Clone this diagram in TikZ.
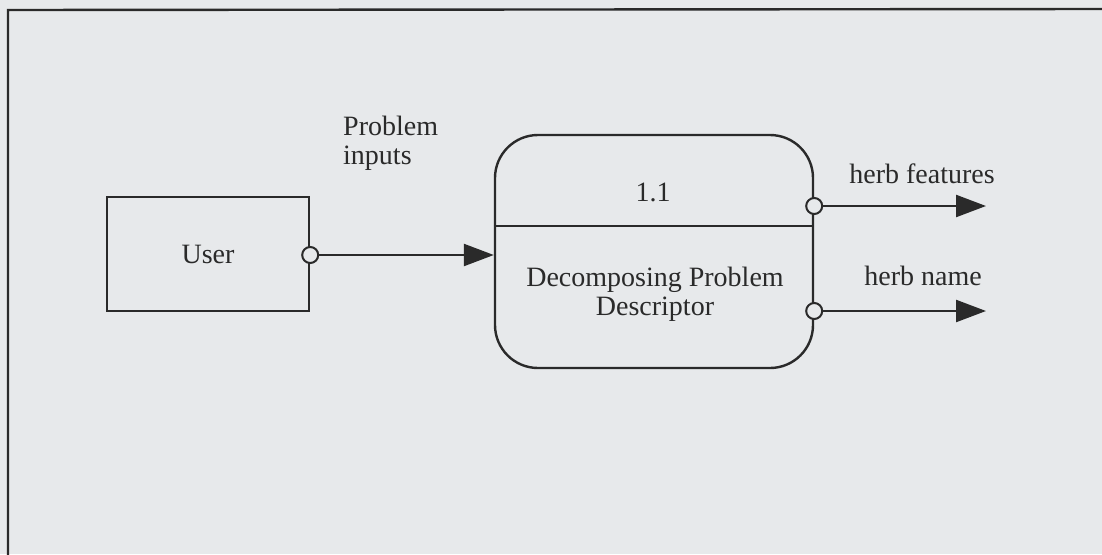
\documentclass[tikz,border=0pt]{standalone}
\usepackage{fontspec}
\setmainfont{Liberation Serif}
\usetikzlibrary{arrows.meta,calc}
\definecolor{paper}{HTML}{E7E9EB}
\definecolor{ink}{HTML}{2A2A2A}
\begin{document}
\begin{tikzpicture}[x=1pt,y=-1pt,
  every node/.style={font=\fontsize{28}{29}\selectfont, text=ink},
  entity/.style={draw=ink, line width=2.4pt, minimum width=202pt, minimum height=114pt, inner sep=0pt},
  process/.style={draw=ink, line width=2.4pt, rounded corners=43pt, minimum width=318pt, minimum height=233pt, inner sep=0pt},
  port/.style={draw=ink, line width=2pt, circle, minimum size=16pt, inner sep=0pt, fill=paper},
  flow/.style={draw=ink, line width=2.4pt, -{Triangle[length=30pt,width=22pt]}},
  lbl/.style={inner sep=0pt}
]
% page and outer frame
\fill[paper] (0,0) rectangle (1102,554);
\useasboundingbox (0,0) rectangle (1102,554);
\draw[ink, line width=2.4pt] (8,560) -- (8,10) -- (1110,9);

% external entity and process
\node[entity] (user) at (208,254) {User};
\node[process] (proc) at (654,251.5) {};
\draw[ink, line width=2.4pt] (proc.west |- 0,226) -- (proc.east |- 0,226);
\node[lbl] (pid) at (653,192) {1.1};
\node[lbl, align=center] (pname) at (655,294) {Decomposing Problem\\Descriptor};

% input flow
\node[port] (pin) at (user.east |- 0,255) {};
\coordinate (pend) at (proc.west |- 0,255);
\draw[flow] (pin) -- (pend);
\node[lbl, align=left, anchor=north west] (inlbl) at (343,116) {Problem\\inputs};

% output flows
\node[port] (pout1) at (proc.east |- 0,206) {};
\node[port] (pout2) at (proc.east |- 0,311) {};
\coordinate (end1) at (986,206);
\coordinate (end2) at (986,311);
\draw[flow] (pout1) -- (end1);
\draw[flow] (pout2) -- (end2);
\node[lbl] (f1) at (922,174) {herb features};
\node[lbl] (f2) at (923,276) {herb name};
\end{tikzpicture}
\end{document}
